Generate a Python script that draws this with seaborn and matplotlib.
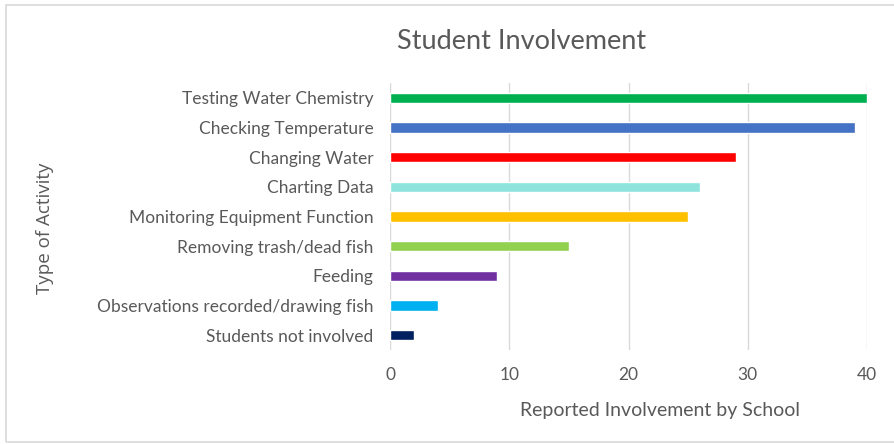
import matplotlib
matplotlib.use("Agg")
import matplotlib.pyplot as plt
import seaborn as sns
import pandas as pd
from matplotlib.patches import Rectangle

activities = ["Testing Water Chemistry", "Checking Temperature", "Changing Water",
              "Charting Data", "Monitoring Equipment Function", "Removing trash/dead fish",
              "Feeding", "Observations recorded/drawing fish", "Students not involved"]
counts = [40, 39, 29, 26, 25, 15, 9, 4, 2]
colors = ["#00b050", "#4472c4", "#ff0000", "#8ee3dd", "#ffc000", "#92d050",
          "#7030a0", "#00b0f0", "#002060"]
x_ticks = [0, 10, 20, 30, 40]

df = pd.DataFrame({"Activity": activities, "Count": counts})

sns.set_theme(style="white")
plt.rcParams['font.family'] = ['Lato', 'DejaVu Sans']
gray = "#595959"

fig = plt.figure(figsize=(8.94, 4.44), dpi=100)
fig.patch.set_facecolor("white")
ax = fig.add_axes([390/894, 1-350/444, (867-390)/894, (350-83)/444])

sns.barplot(data=df, y="Activity", x="Count", hue="Activity", palette=colors,
            order=activities, hue_order=activities, orient="h", width=0.34,
            dodge=False, legend=False, ax=ax, saturation=1)

ax.set_xlim(0, 40)
ax.set_xticks(x_ticks)
ax.grid(axis="x", color="#d9d9d9", linewidth=1)
ax.set_axisbelow(True)
for s in ax.spines.values():
    s.set_visible(False)
ax.tick_params(axis="both", length=0, colors=gray, labelsize=12.5)
ax.tick_params(axis="x", pad=12)
ax.tick_params(axis="y", pad=12)
ax.set_xlabel("")
ax.set_ylabel("")

fig.text(522/894, 1-41/444, "Student Involvement", ha="center", va="center",
         fontsize=19.5, color=gray)
fig.text(660/894, 1-410/444, "Reported Involvement by School", ha="center", va="center",
         fontsize=14, color=gray)
fig.text(45/894, 1-228/444, "Type of Activity", ha="center", va="center",
         rotation=90, fontsize=13.5, color=gray, family=['Open Sans', 'DejaVu Sans'])

fig.patches.append(Rectangle((6/894, 1-442/444), 1.0, (442-5)/444, transform=fig.transFigure,
                             fill=False, edgecolor="#d9d9d9", linewidth=1.2))

fig.savefig("out.png", dpi=100)
